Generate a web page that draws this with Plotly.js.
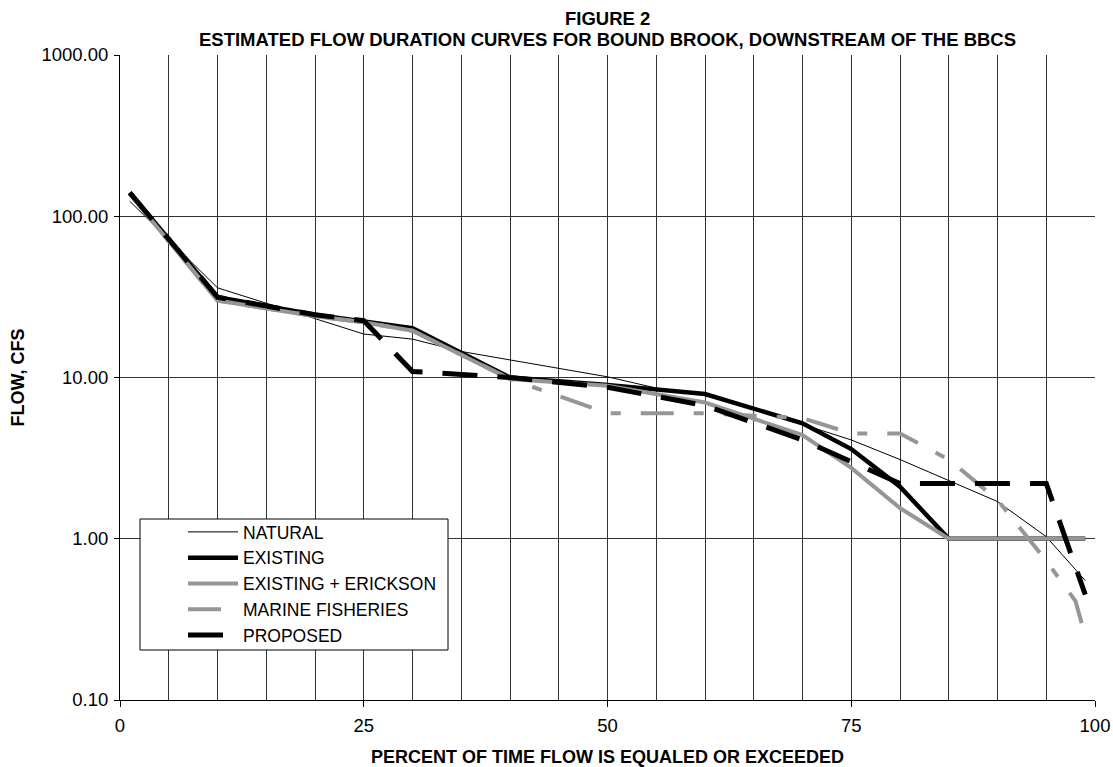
<!DOCTYPE html>
<html>
<head>
<meta charset="utf-8">
<script src="https://cdn.plot.ly/plotly-3.0.1.min.js"></script>
<style>html,body{margin:0;padding:0;background:#fff;}#chart{width:1113px;height:767px;}</style>
</head>
<body>
<div id="chart"></div>
<script>
// Percent of time flow is equaled or exceeded (x) and flow in CFS (y)
const naturalX = [1, 10, 25, 30, 35, 50, 55, 60, 65, 70, 75, 80, 85, 90, 95, 99];
const naturalY = [124, 36, 18.6, 17.3, 14.5, 10.1, 8.6, 7.9, 6.4, 5.1, 4.1, 3.1, 2.3, 1.7, 1.03, 0.55];

const existingX = [1, 10, 20, 25, 30, 40, 50, 60, 70, 75, 80, 85, 99];
const existingY = [140, 31.5, 24.5, 22.3, 20.2, 10.0, 9.0, 7.9, 5.2, 3.6, 2.1, 1.0, 1.0];

const ericksonX = [1, 10, 20, 25, 30, 40, 50, 60, 70, 75, 80, 85, 99];
const ericksonY = [138, 30, 24, 22, 19.5, 9.8, 8.9, 7.0, 4.4, 2.75, 1.55, 1.0, 1.0];

const marineX = [1, 10, 20, 25, 30, 40, 50, 60, 65, 70, 75, 80, 85, 90, 95, 98, 99];
const marineY = [138, 30, 24, 22, 19.5, 9.8, 6.0, 6.0, 5.8, 5.6, 4.5, 4.5, 3.1, 1.74, 0.73, 0.41, 0.25];

const proposedX = [1, 10, 20, 25, 30, 40, 50, 60, 70, 80, 95, 99];
const proposedY = [140, 31.5, 24.5, 22.5, 10.9, 10.0, 8.7, 6.7, 4.1, 2.2, 2.2, 0.45];

const seriesNames = ["NATURAL", "EXISTING", "EXISTING + ERICKSON", "MARINE FISHERIES", "PROPOSED"];

const yTickVals = [0.1, 1, 10, 100, 1000];
const yTickText = ["0.10", "1.00", "10.00", "100.00", "1000.00"];
const xTickVals = [0, 25, 50, 75, 100];
const xTickText = ["0", "25", "50", "75", "100"];

const titleLine1 = "FIGURE 2";
const titleLine2 = "ESTIMATED FLOW DURATION CURVES FOR BOUND BROOK, DOWNSTREAM OF THE BBCS";

const FONT = "Arial, 'Liberation Sans', sans-serif";
const GRAY = "#969696";

const traces = [
  {x: naturalX, y: naturalY, name: seriesNames[0], mode: "lines", line: {color: "#000", width: 1}},
  {x: existingX, y: existingY, name: seriesNames[1], mode: "lines", line: {color: "#000", width: 4.5}},
  {x: ericksonX, y: ericksonY, name: seriesNames[2], mode: "lines", line: {color: GRAY, width: 4}},
  {x: marineX, y: marineY, name: seriesNames[3], mode: "lines", line: {color: GRAY, width: 4, dash: "33px,20px,10px,20px"}},
  {x: proposedX, y: proposedY, name: seriesNames[4], mode: "lines", line: {color: "#000", width: 5, dash: "35px,20px"}}
];

const layout = {
  width: 1113, height: 767,
  margin: {l: 120, r: 18, t: 55, b: 67},
  paper_bgcolor: "#fff", plot_bgcolor: "#fff",
  font: {family: FONT, color: "#000", size: 17},
  annotations: [
    {text: "<b>" + titleLine1 + "</b>", xref: "paper", yref: "paper", x: 0.5, y: (700 - 19) / 645,
     xanchor: "center", yanchor: "middle", showarrow: false, font: {family: FONT, size: 18.5, color: "#000"}},
    {text: "<b>" + titleLine2 + "</b>", xref: "paper", yref: "paper", x: 0.5, y: (700 - 39) / 645,
     xanchor: "center", yanchor: "middle", showarrow: false, font: {family: FONT, size: 18.5, color: "#000"}}
  ],
  shapes: [
    {type: "rect", xref: "paper", yref: "paper", x0: 20 / 975, x1: 328 / 975, y0: 50 / 645, y1: 181 / 645,
     line: {color: "#000", width: 1}, fillcolor: "#fff", layer: "above"}
  ],
  showlegend: true,
  legend: {
    x: 63 / 975, y: (700 - 514) / 645, xanchor: "left", yanchor: "top",
    bgcolor: "rgba(0,0,0,0)", borderwidth: 0,
    font: {family: FONT, size: 17.5, color: "#000"},
    itemwidth: 50, traceorder: "normal", tracegroupgap: 0
  },
  xaxis: {
    range: [0, 100], type: "linear",
    tickvals: xTickVals, ticktext: xTickText,
    ticks: "outside", ticklen: 6, tickcolor: "#000",
    ticklabelstandoff: 3,
    showline: true, linecolor: "#000", linewidth: 1,
    showgrid: true, gridcolor: "#333", gridwidth: 1,
    minor: {dtick: 5, tick0: 0, showgrid: true, gridcolor: "#333", gridwidth: 1, ticks: ""},
    zeroline: false,
    tickfont: {family: FONT, size: 18.5, color: "#000"},
    title: {text: "<b>PERCENT OF TIME FLOW IS EQUALED OR EXCEEDED</b>", font: {family: FONT, size: 18, color: "#000"}, standoff: 20},
    automargin: false
  },
  yaxis: {
    type: "log", range: [-1, 3],
    tickvals: yTickVals, ticktext: yTickText,
    ticks: "outside", ticklen: 5, tickcolor: "#000",
    ticklabelstandoff: 2,
    showline: true, linecolor: "#000", linewidth: 1,
    showgrid: true, gridcolor: "#333", gridwidth: 1,
    zeroline: false,
    tickfont: {family: FONT, size: 18.5, color: "#000"},
    title: {text: "<b>FLOW, CFS</b>", font: {family: FONT, size: 18, color: "#000"}, standoff: 12},
    automargin: false
  }
};

Plotly.newPlot("chart", traces, layout, {displayModeBar: false, staticPlot: true});
</script>
</body>
</html>
